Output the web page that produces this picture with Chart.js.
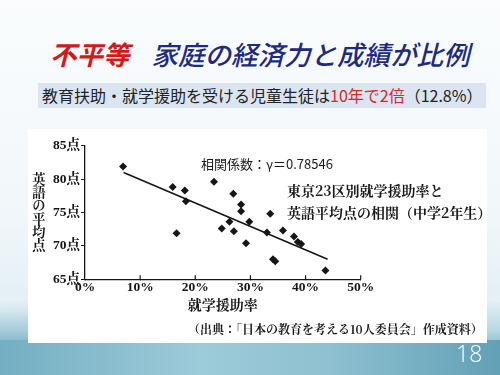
<!DOCTYPE html>
<html lang="ja">
<head>
<meta charset="utf-8">
<script src="https://cdn.jsdelivr.net/npm/chart.js@4/dist/chart.umd.min.js"></script>
<style>
  body { margin: 0; }
  #slide {
    position: relative; width: 500px; height: 375px; overflow: hidden;
    font-family: "Noto Sans CJK JP", sans-serif;
    background:
      radial-gradient(ellipse 420px 90px at 60px 400px, rgba(95,160,185,0.9), rgba(95,160,185,0) 100%),
      linear-gradient(180deg, #fafcfd 0%, #f2f7fa 55%, #e4f0f5 80%, #b9d8e3 88%, #86bacb 93%, #66a2b8 100%);
  }
  #band {
    position: absolute; left: 0; top: 340px; width: 500px; height: 35px;
    background: linear-gradient(90deg, #74aec2 0%, #9ccbd9 40%, #8fc1d1 65%, #62a0b6 100%);
  }
  #title {
    position: absolute; left: 50px; top: 41px; font-size: 26.5px; line-height: 1;
    font-style: italic; font-weight: bold; white-space: nowrap;
  }
  #title .red { color: #d21a1a; }
  #title .navy { color: #1c2a82; margin-left: 22px; font-weight: 500; }
  #sub {
    position: absolute; left: 38px; top: 83px; width: 448px; height: 25px;
    background: #dbe5f2; font-size: 16px; line-height: 25px; color: #222;
    white-space: nowrap; padding-left: 4px; box-sizing: border-box;
  }
  #sub .red { color: #d22a2a; }
  #panel {
    position: absolute; left: 28px; top: 129px; width: 459px; height: 214px; background: #fff;
  }
  .serif { font-family: "Noto Serif CJK JP", "Liberation Serif", "Noto Sans CJK JP", serif; font-weight: bold; color: #1a1a1a; }
  .note { position: absolute; white-space: nowrap; }
  #ytitle { left: 4px; top: 43px; writing-mode: vertical-rl; font-size: 13.3px; line-height: 1; }
  #corr { left: 173px; top: 27px; font-size: 13px; line-height: 15px; color: #1a1a1a; }
  #caption { left: 259px; top: 51px; font-size: 14px; line-height: 21.5px; }
  #source { left: 160px; top: 192px; font-size: 12px; line-height: 16px; }
  #page {
    position: absolute; left: 456px; top: 341px; font-family: "Open Sans", sans-serif;
    font-weight: 300; font-size: 23px; line-height: 1.1; color: #fff;
  }
</style>
</head>
<body>
<div id="slide">
  <div id="band"></div>
  <div id="title"><span class="red">不平等</span><span class="navy">家庭の経済力と成績が比例</span></div>
  <div id="sub">教育扶助・就学援助を受ける児童生徒は<span class="red">10年で2倍</span>（12.8%）</div>
  <div id="panel">
    <canvas id="chart" width="459" height="214"></canvas>
    <div id="ytitle" class="note serif">英語の平均点</div>
    <div id="corr" class="note">相関係数：γ＝0.78546</div>
    <div id="caption" class="note serif">東京23区別就学援助率と<br>英語平均点の相関（中学2年生）</div>
    <div id="source" class="note serif">（出典：「日本の教育を考える10人委員会」作成資料）</div>
  </div>
  <div id="page">18</div>
</div>
<script>
// 就学援助率 (%) and 英語の平均点 for the 23 wards
const aidRate = [6.9, 15.9, 18.1, 18.3, 16.6, 23.4, 26.9, 28.3, 28.3, 26.2, 24.8, 27.0,
                 29.8, 29.2, 33.0, 33.6, 34.1, 34.5, 35.9, 37.9, 38.6, 39.2, 43.6];
const englishScore = [81.9, 78.8, 78.3, 76.7, 71.9, 79.6, 77.8, 76.2, 75.2, 73.6, 72.6, 72.2,
                      73.6, 70.4, 72.0, 74.8, 68.0, 67.7, 72.3, 71.4, 70.6, 70.3, 66.3];
// regression line end points
const trendRate = [7, 44];
const trendScore = [81, 68];

const ink = '#161616';
const serifFont = '"Liberation Serif", "Noto Serif CJK JP", serif';

// x-axis tick marks point up into the plot
const innerTicks = {
    id: 'innerTicks',
    afterDraw(chart) {
        const ctx = chart.ctx;
        const x = chart.scales.x;
        ctx.save();
        ctx.strokeStyle = ink;
        ctx.lineWidth = 1.2;
        x.ticks.forEach(t => {
            if (t.value === 0) return;
            const px = x.getPixelForValue(t.value);
            ctx.beginPath();
            ctx.moveTo(px, x.top);
            ctx.lineTo(px, x.top - 4);
            ctx.stroke();
        });
        ctx.restore();
    }
};

new Chart(document.getElementById('chart'), {
    type: 'scatter',
    data: {
        datasets: [
            {
                data: aidRate.map((v, i) => ({ x: v, y: englishScore[i] })),
                pointStyle: 'rectRot',
                pointRadius: 4,
                backgroundColor: ink,
                borderColor: ink,
                borderWidth: 0
            },
            {
                data: trendRate.map((v, i) => ({ x: v, y: trendScore[i] })),
                showLine: true,
                borderColor: ink,
                borderWidth: 1.6,
                pointRadius: 0
            }
        ]
    },
    options: {
        responsive: false,
        animation: false,
        layout: { padding: { top: 16.7, right: 126.3, bottom: 28, left: 0 } },
        plugins: { legend: { display: false }, tooltip: { enabled: false } },
        scales: {
            x: {
                min: 0, max: 50,
                ticks: {
                    stepSize: 10, padding: 0, color: ink,
                    font: { family: serifFont, size: 13.5, weight: 'bold' },
                    callback: v => v + '%'
                },
                grid: { drawOnChartArea: false, tickLength: 0, color: ink },
                border: { color: ink, width: 1.3 },
                title: {
                    display: true, text: '就学援助率', color: ink, padding: 0,
                    font: { family: serifFont, size: 14, weight: 'bold' }
                },
                afterFit(s) { s.height = 35.7; }
            },
            y: {
                min: 65, max: 85,
                ticks: {
                    stepSize: 5, padding: 1, color: ink,
                    font: { family: serifFont, size: 13.5, weight: 'bold' },
                    callback: v => v + '点'
                },
                grid: { drawOnChartArea: false, tickLength: 4, color: ink },
                border: { color: ink, width: 1.3 },
                afterFit(s) { s.width = 57; }
            }
        }
    },
    plugins: [innerTicks]
});
</script>
</body>
</html>
